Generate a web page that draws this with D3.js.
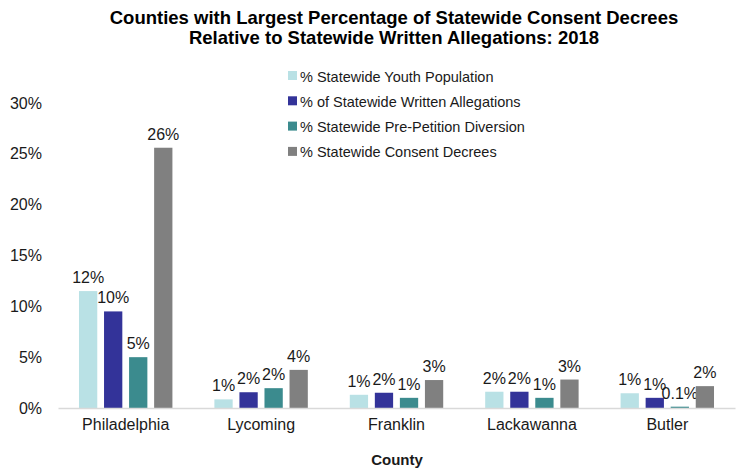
<!DOCTYPE html>
<html>
<head>
<meta charset="utf-8">
<script src="https://cdn.jsdelivr.net/npm/d3@7"></script>
<style>
  body { margin: 0; background: #fff; }
  svg { display: block; font-family: "Liberation Sans", Arial, sans-serif; }
</style>
</head>
<body>
<svg id="chart" width="743" height="470"></svg>
<script>
// County categories and the share (in %) each county holds of the statewide totals
const counties = ["Philadelphia", "Lycoming", "Franklin", "Lackawanna", "Butler"];
const seriesNames = [
  "% Statewide Youth Population",
  "% of Statewide Written Allegations",
  "% Statewide Pre-Petition Diversion",
  "% Statewide Consent Decrees"
];
const youthPopulation      = [11.5, 0.85, 1.3, 1.6, 1.45];
const writtenAllegations   = [9.5, 1.55, 1.5, 1.6, 1.0];
const prePetitionDiversion = [5.0, 1.95, 1.0, 1.0, 0.13];
const consentDecrees       = [25.6, 3.75, 2.75, 2.8, 2.15];
const yTicks = [0, 5, 10, 15, 20, 25, 30];
const colors = ["#b9e1e5", "#333399", "#3b8b8e", "#808080"];

const seriesValues = [youthPopulation, writtenAllegations, prePetitionDiversion, consentDecrees];

const svg = d3.select("#chart");
const margin = { left: 58, right: 8, top: 103, bottom: 62 };
const width = 743, height = 470;
const textColor = "#1a1a1a";

const x = d3.scaleBand().domain(counties).range([margin.left, width - margin.right]).paddingInner(0.31).paddingOuter(0.155);
const xs = d3.scaleBand().domain(d3.range(seriesNames.length)).range([0, x.bandwidth()]).paddingInner(0.27);
const y = d3.scaleLinear().domain([0, 30]).range([height - margin.bottom, margin.top]);

// Title
const titleLines = [
  "Counties with Largest Percentage of Statewide Consent Decrees",
  "Relative to Statewide Written Allegations: 2018"
];
svg.append("g").selectAll("text").data(titleLines).join("text")
  .attr("x", 394).attr("y", (d, i) => 24 + i * 20).attr("text-anchor", "middle")
  .attr("font-weight", "bold").attr("font-size", 18.5).attr("fill", "#000")
  .text(d => d);

// Y axis (labels only)
const yAxis = svg.append("g").attr("transform", `translate(${margin.left},0)`)
  .call(d3.axisLeft(y).tickValues(yTicks).tickFormat(d => d + "%").tickSize(0).tickPadding(16));
yAxis.select(".domain").remove();
yAxis.selectAll("text").attr("font-size", 16).attr("fill", textColor).attr("font-family", "Liberation Sans, Arial, sans-serif");

// Bars with value labels
const fmt = v => v < 0.5 ? d3.format(".1f")(v) + "%" : d3.format(".0f")(v) + "%";
const groups = svg.append("g").selectAll("g").data(counties).join("g")
  .attr("transform", d => `translate(${x(d)},0)`);
groups.each(function(county, ci) {
  const g = d3.select(this);
  seriesValues.forEach((vals, si) => {
    const v = vals[ci];
    g.append("rect")
      .attr("x", xs(si)).attr("width", xs.bandwidth())
      .attr("y", y(v)).attr("height", y(0) - y(v))
      .attr("fill", colors[si]);
    g.append("text")
      .attr("x", xs(si) + xs.bandwidth() / 2).attr("y", y(v) - 8)
      .attr("text-anchor", "middle").attr("font-size", 16).attr("fill", textColor)
      .text(fmt(v));
  });
});

// X axis
const xAxis = svg.append("g").attr("transform", `translate(0,${y(0)})`)
  .call(d3.axisBottom(x).tickSize(0).tickPadding(11));
xAxis.select(".domain").attr("stroke", "#d9d9d9").attr("stroke-width", 1.3);
xAxis.selectAll("text").attr("font-size", 16).attr("fill", textColor).attr("font-family", "Liberation Sans, Arial, sans-serif");

svg.append("text").attr("x", 397).attr("y", 465).attr("text-anchor", "middle")
  .attr("font-weight", "bold").attr("font-size", 15).attr("fill", textColor).text("County");

// Legend
const legend = svg.append("g").selectAll("g").data(seriesNames).join("g")
  .attr("transform", (d, i) => `translate(288,${76 + i * 25.3})`);
legend.append("rect").attr("x", 0).attr("y", -5).attr("width", 9).attr("height", 9)
  .attr("fill", (d, i) => colors[i]);
legend.append("text").attr("x", 12).attr("y", 5.5).attr("font-size", 14.5).attr("fill", textColor).text(d => d);
</script>
</body>
</html>
